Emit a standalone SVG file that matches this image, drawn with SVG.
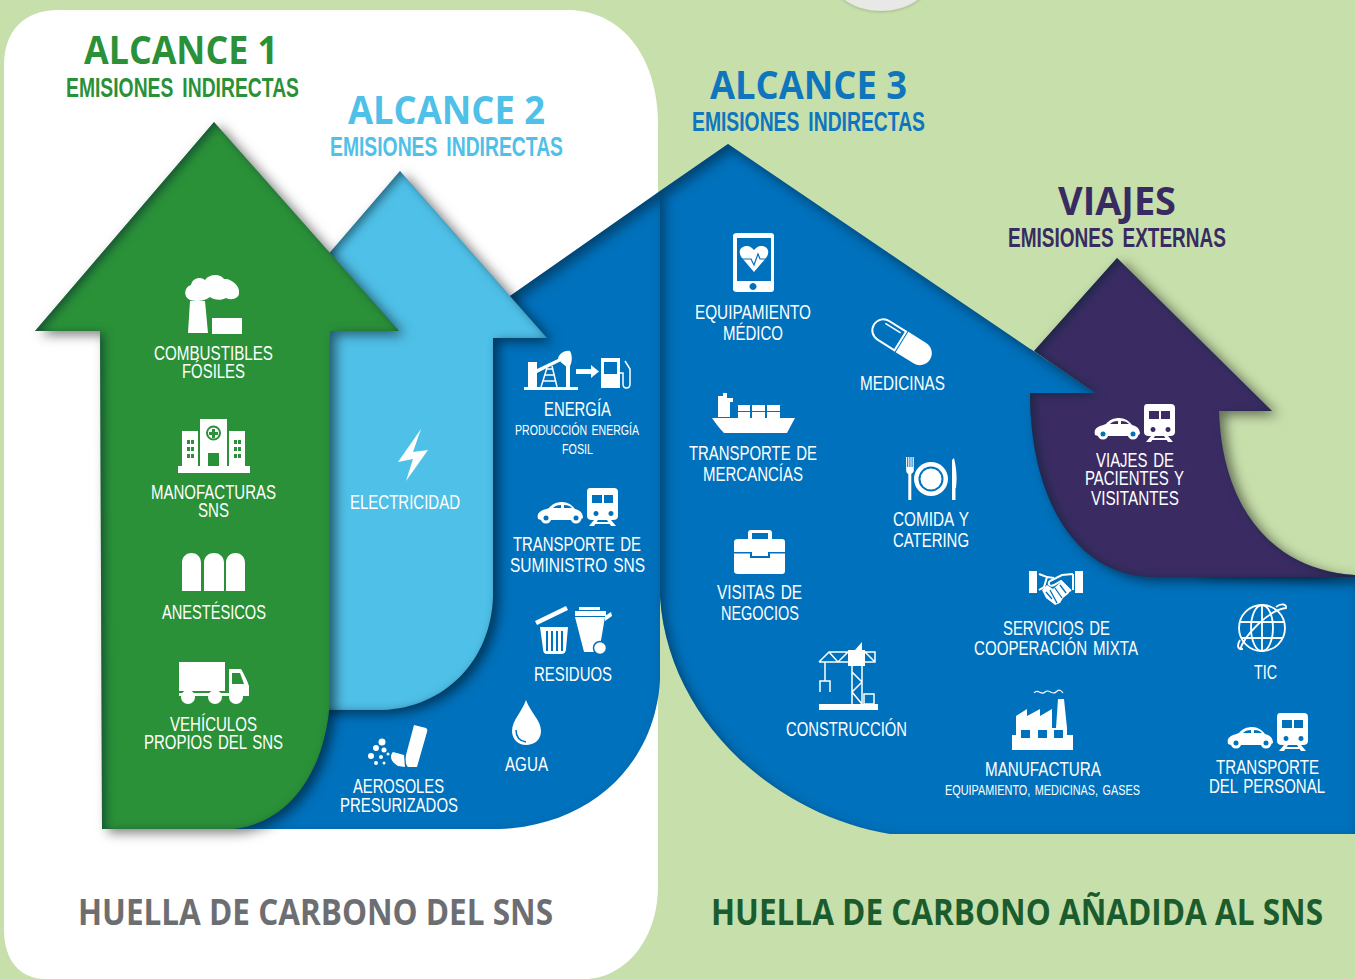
<svg xmlns="http://www.w3.org/2000/svg" xmlns:xlink="http://www.w3.org/1999/xlink" width="1355" height="979" viewBox="0 0 1355 979">
<style>
text{font-family:"Liberation Sans",Arial,sans-serif}
.l{fill:#fff;font-size:19.500px;word-spacing:2px}
.s{fill:#fff;font-size:15px;word-spacing:2px}
.h{font-family:"Open Sans","Liberation Sans",sans-serif;font-weight:700;font-size:39px}
.e{font-weight:700;font-size:27px;word-spacing:5px}
.f{font-family:"Open Sans","Liberation Sans",sans-serif;font-weight:700;font-size:36px}
.ic{fill:#fff}
.ev{fill:#fff;fill-rule:evenodd}
.st{fill:none;stroke:#fff;stroke-width:2}
.bl{fill:#0071bc}
.gr{fill:#2a9138}
</style>
<defs>
<filter id="both" x="-15%" y="-15%" width="130%" height="130%" color-interpolation-filters="sRGB">
<feGaussianBlur in="SourceAlpha" stdDeviation="6" result="b"/>
<feOffset in="b" dx="6" dy="4" result="o"/>
<feFlood flood-color="#000" flood-opacity=".5"/>
<feComposite in2="o" operator="in" result="drop"/>
<feFlood flood-color="#000" flood-opacity="1"/>
<feComposite in2="SourceAlpha" operator="out" result="inv"/>
<feOffset in="inv" dx="4" dy="2"/>
<feGaussianBlur stdDeviation="5" result="ib"/>
<feFlood flood-color="#06202e" flood-opacity=".55"/>
<feComposite in2="ib" operator="in"/>
<feComposite in2="SourceAlpha" operator="in" result="inner"/>
<feMerge><feMergeNode in="drop"/><feMergeNode in="SourceGraphic"/><feMergeNode in="inner"/></feMerge>
</filter>
<filter id="blue" x="-5%" y="-5%" width="110%" height="110%" color-interpolation-filters="sRGB">
<feFlood flood-color="#000" flood-opacity="1"/>
<feComposite in2="SourceAlpha" operator="out" result="inv"/>
<feOffset in="inv" dx="5" dy="6"/>
<feGaussianBlur stdDeviation="6" result="ib"/>
<feFlood flood-color="#02263f" flood-opacity=".6"/>
<feComposite in2="ib" operator="in"/>
<feComposite in2="SourceAlpha" operator="in" result="inner"/>
<feMerge><feMergeNode in="SourceGraphic"/><feMergeNode in="inner"/></feMerge>
</filter>
<filter id="soft" x="-20%" y="-20%" width="140%" height="140%"><feDropShadow dx="0" dy="1" stdDeviation="1.500" flood-color="#000" flood-opacity=".2"/></filter>
<clipPath id="cuña"><path d="M1030,340 H1100 V393 H1030Z"/></clipPath>
<path id="cuerpo3" d="M660,191 L728,144 L1095,393 L1110,430 L1200,570 L1355,576 L1355,834 L890,834 C775,815 668,720 660,597Z"/>
<g id="cartrain">
<path class="ev" d="M4,22 C8,20 10,20 12,19 C15,15 20,13 25,13 C31,13 35,16 38,20 C43,21 46,24 46,29 L42,31 L4,31 L1,30 C0,26 1,24 4,22Z M16,19 L24,19 L24,16 C20,16 18,17 16,19Z M27,16 L27,19 L35,19 C33,17 31,16 27,16Z"/>
<circle cx="9" cy="29" r="5.500" class="ic"/><circle cx="39" cy="29" r="5.500" class="ic"/>
<circle cx="9" cy="29" r="2.500" fill="#0071bc"/><circle cx="39" cy="29" r="2.500" fill="#0071bc"/>
<path class="ev" d="M53,-1 H77 Q81,-1 81,3 V27 Q81,31 76,31 H55 Q50,31 50,27 V3 Q50,-1 53,-1Z M55,6 V14 H65 V6Z M67,6 V14 H76 V6Z M59,22 a2.500,2.500 0 1 0 0.010,0Z M74,22 a2.500,2.500 0 1 0 0.010,0Z"/>
<path class="ic" d="M57,31 H61 L57,37 H52Z M70,31 H74 L79,37 H74Z M58,33 H73 V35 H58Z"/>
</g>
</defs>

<rect width="1355" height="979" fill="#c7dfab"/>
<ellipse cx="881" cy="-32" rx="54" ry="43" fill="#e8e9e6" filter="url(#soft)"/>
<path d="M58,10 H570 C625,12 658,60 658,125 V885 C658,945 620,979 585,979 H45 C20,979 4,960 4,930 V65 C4,30 25,10 58,10Z" fill="#fff"/>

<g id="connectors"/>

<g id="alcance3-derecha"><use href="#cuerpo3" class="bl" filter="url(#blue)"/></g>
<g id="alcance3-izquierda"><path class="bl" filter="url(#blue)" d="M400,373 L660,191 V680 C655,765 590,826 499,829 H200 V373Z"/></g>
<g id="alcance2-flecha"><path d="M400,171 L547,338 H493 V597 C491,660 445,708 382,710 H320 V264Z" fill="#4fc0e8" filter="url(#both)"/></g>
<g id="alcance1-flecha"><path d="M214,122 L399,331 H330 V700 C326,770 290,824 232,829 H102 L100,331 H35Z" fill="#2a9138" filter="url(#both)"/></g>
<g id="viajes-flecha">
<path d="M1117,258 L1272,411 H1219 C1222,505 1270,570 1355,575 V577 H1150 C1070,574 1030,490 1030,393 H1095 L1034,351Z" fill="#3a2c63" filter="url(#both)"/>
<g clip-path="url(#cuña)"><use href="#cuerpo3" class="bl" filter="url(#blue)"/></g>
</g>

<g id="titulos">
<text class="h" x="84" y="64" textLength="194" lengthAdjust="spacingAndGlyphs" fill="#2a9138">ALCANCE 1</text>
<text class="e" x="66" y="97" textLength="233" lengthAdjust="spacingAndGlyphs" fill="#2a9138">EMISIONES INDIRECTAS</text>
<text class="h" x="348" y="124" textLength="197" lengthAdjust="spacingAndGlyphs" fill="#4fc0e8">ALCANCE 2</text>
<text class="e" x="330" y="156" textLength="233" lengthAdjust="spacingAndGlyphs" fill="#4fc0e8">EMISIONES INDIRECTAS</text>
<text class="h" x="710" y="99" textLength="197" lengthAdjust="spacingAndGlyphs" fill="#0f75bd">ALCANCE 3</text>
<text class="e" x="692" y="131" textLength="233" lengthAdjust="spacingAndGlyphs" fill="#0f75bd">EMISIONES INDIRECTAS</text>
<text class="h" x="1058" y="215" textLength="118" lengthAdjust="spacingAndGlyphs" fill="#372b62">VIAJES</text>
<text class="e" x="1008" y="247" textLength="218" lengthAdjust="spacingAndGlyphs" fill="#372b62">EMISIONES EXTERNAS</text>
<text class="f" x="78" y="925" textLength="475" lengthAdjust="spacingAndGlyphs" fill="#6d6e71">HUELLA DE CARBONO DEL SNS</text>
<text class="f" x="711" y="925" textLength="612" lengthAdjust="spacingAndGlyphs" fill="#1a5c2e">HUELLA DE CARBONO AÑADIDA AL SNS</text>
</g>

<g id="combustibles">
<path class="ic" d="M190,300 C183,297 184,287 191,285 C192,278 201,276 205,280 C209,274 220,273 224,279 C232,278 240,287 239,292 C240,298 232,301 226,298 C221,301 214,300 210,297 C205,301 197,302 190,300Z M190,301 H205 L208,333 H188Z M212,318 H242 V334 H212Z"/>
<text class="l" x="154" y="360" textLength="119" lengthAdjust="spacingAndGlyphs">COMBUSTIBLES</text>
<text class="l" x="182" y="378" textLength="63" lengthAdjust="spacingAndGlyphs">FÓSILES</text>
</g>
<g id="manofacturas">
<path class="ic" d="M178,466 H250 V473 H178Z M200,419 H227 V466 H200Z M182,431 H198 V466 H182Z M229,431 H245 V466 H229Z"/>
<circle cx="213.500" cy="433" r="6.500" class="ic" stroke="#2a9138" stroke-width="2"/>
<path class="gr" d="M212,429 h3 v3 h3 v3 h-3 v3 h-3 v-3 h-3 v-3 h3Z M208,453 H219 V466 H208Z M187,440 h3 v4 h-3Z M191,440 h3 v4 h-3Z M187,447 h3 v4 h-3Z M191,447 h3 v4 h-3Z M187,454 h3 v4 h-3Z M191,454 h3 v4 h-3Z M234,440 h3 v4 h-3Z M238,440 h3 v4 h-3Z M234,447 h3 v4 h-3Z M238,447 h3 v4 h-3Z M234,454 h3 v4 h-3Z M238,454 h3 v4 h-3Z"/>
<text class="l" x="151" y="499" textLength="125" lengthAdjust="spacingAndGlyphs">MANOFACTURAS</text>
<text class="l" x="198" y="517" textLength="31" lengthAdjust="spacingAndGlyphs">SNS</text>
</g>
<g id="anestesicos">
<path class="ic" d="M182,591 V563 C182,556 187,553 191.500,553 C196,553 201,556 201,563 V591Z M204,591 V563 C204,556 209,553 214,553 C219,553 224,556 224,563 V591Z M226,591 V563 C226,556 231,553 235.500,553 C240,553 245,556 245,563 V591Z"/>
<text class="l" x="162" y="619" textLength="104" lengthAdjust="spacingAndGlyphs">ANESTÉSICOS</text>
</g>
<g id="vehiculos">
<path class="ic" d="M179,662 H225 V691 H179Z M229,669 H241 C244,674 247,680 249,686 V695 H229Z M179,693 H249 V696 H179Z"/>
<path class="gr" d="M232,673 H240 L244,684 H232Z"/>
<circle class="ic" cx="188" cy="697" r="7"/><circle class="ic" cx="215" cy="697" r="7"/><circle class="ic" cx="236" cy="697" r="7"/>
<text class="l" x="170" y="731" textLength="87" lengthAdjust="spacingAndGlyphs">VEHÍCULOS</text>
<text class="l" x="144" y="749" textLength="139" lengthAdjust="spacingAndGlyphs">PROPIOS DEL SNS</text>
</g>
<g id="electricidad">
<path class="ic" d="M421,429 L398,462 L413,459 L406,481 L428,450 L413,452Z"/>
<text class="l" x="350" y="509" textLength="110" lengthAdjust="spacingAndGlyphs">ELECTRICIDAD</text>
</g>
<g id="energia">
<path class="ic" d="M524,387 H578 V390 H524Z M528,362 H537 V387 H528Z M537,369 L560,358 L561,361 L537,373Z M558,358 C560,353 565,350 570,351 C573,356 572,364 569,368 C565,366 560,362 558,358Z M566,366 H570 V387 H566Z M576,369 H591 V365 L599,371.500 L591,378 V374 H576Z M601,358 H620 V388 H601Z"/>
<path class="st" d="M541,387 L547,368 M557,387 L552,366 M543,381 H556 M545,375 H554 M547,369 H552" style="stroke-width:1.500"/>
<path class="st" d="M620,373 h3 v11 q0,4 3.500,4 q3.500,0 3.500,-4 V369 L625,361" style="stroke-width:1.500"/>
<path class="bl" d="M604,362 H617 V374 H604Z"/>
<text class="l" x="544" y="416" textLength="67" lengthAdjust="spacingAndGlyphs">ENERGÍA</text>
<text class="s" x="515" y="435" textLength="124" lengthAdjust="spacingAndGlyphs">PRODUCCIÓN ENERGÍA</text>
<text class="s" x="562" y="454" textLength="31" lengthAdjust="spacingAndGlyphs">FOSIL</text>
</g>
<g id="suministro">
<use xlink:href="#cartrain" href="#cartrain" transform="translate(537,489)"/>
<text class="l" x="513" y="551" textLength="128" lengthAdjust="spacingAndGlyphs">TRANSPORTE DE</text>
<text class="l" x="510" y="572" textLength="135" lengthAdjust="spacingAndGlyphs">SUMINISTRO SNS</text>
</g>
<g id="residuos">
<path class="ic" d="M535,621 L566,606 L568,610 L537,625Z M540,627 H568 L566,649 Q566,654 561,654 H547 Q543,654 543,649Z M579,607 H600 V610 H579Z M575,611 H606 V616 H575Z M575,617 H605 L599,652 H584Z M605,616 L611,612 L612,616 L605,621Z"/>
<path class="bl" d="M546,631 h2 v20 h-2Z M551,631 h2 v20 h-2Z M556,631 h2 v20 h-2Z M561,631 h2 v20 h-2Z"/>
<circle cx="600" cy="648" r="6.500" class="ic" stroke="#0071bc" stroke-width="1.500"/>
<text class="l" x="534" y="681" textLength="78" lengthAdjust="spacingAndGlyphs">RESIDUOS</text>
</g>
<g id="agua">
<path class="ic" d="M526,700 C530,712 541,720 541,731 C541,740 534,745 526,745 C518,745 512,739 512,731 C512,720 522,712 526,700Z"/>
<path d="M516,730 C516,737 520,741 526,742" fill="none" stroke="#0071bc" stroke-width="1.500"/>
<text class="l" x="505" y="771" textLength="43" lengthAdjust="spacingAndGlyphs">AGUA</text>
</g>
<g id="aerosoles">
<path class="ic" d="M414,725 L426,728 Q428,729 427,732 L417,767 L408,767 C406,766 405,760 406,755Z M393,752 L404,755 L405,767 L398,766 C391,762 389,756 393,752Z"/>
<circle class="ic" cx="382" cy="742" r="3.500"/><circle class="ic" cx="376" cy="748" r="3"/><circle class="ic" cx="384" cy="750" r="2.500"/><circle class="ic" cx="371" cy="756" r="3"/><circle class="ic" cx="381" cy="757" r="2"/><circle class="ic" cx="388" cy="754" r="1.500"/><circle class="ic" cx="376" cy="763" r="2"/><circle class="ic" cx="384" cy="763" r="1.500"/>
<text class="l" x="353" y="793" textLength="91" lengthAdjust="spacingAndGlyphs">AEROSOLES</text>
<text class="l" x="340" y="812" textLength="118" lengthAdjust="spacingAndGlyphs">PRESURIZADOS</text>
</g>
<g id="equipamiento">
<path class="ev" d="M737,233 H771 Q774,233 774,236 V289 Q774,292 771,292 H737 Q733,292 733,289 V236 Q733,233 737,233Z M737,238 V281 H771 V238Z M753,283 a3.500,3.500 0 1 0 0.010,0Z"/>
<path class="ic" d="M754,272 L742,258 C737,251 741,246 747,246 C750,246 752,248 754,250 C756,248 758,246 761,246 C767,246 771,251 766,258Z"/>
<path d="M741,259 H751 L754,265 L758,254 L760,259 H767" fill="none" stroke="#0071bc" stroke-width="1.200"/>
<text class="l" x="695" y="319" textLength="116" lengthAdjust="spacingAndGlyphs">EQUIPAMIENTO</text>
<text class="l" x="723" y="340" textLength="60" lengthAdjust="spacingAndGlyphs">MÉDICO</text>
</g>
<g id="medicinas">
<g transform="translate(902,342) rotate(32)">
<path class="ic" d="M0,-12 H21 A12,12 0 0 1 21,12 H0Z"/>
<path d="M-2,-11 H-22 A11,11 0 0 0 -22,11 H-2Z" fill="none" stroke="#fff" stroke-width="2"/>
<path d="M-24,-7 H-6" stroke="#fff" stroke-width="1.500" fill="none"/>
</g>
<text class="l" x="860" y="390" textLength="85" lengthAdjust="spacingAndGlyphs">MEDICINAS</text>
</g>
<g id="mercancias">
<path class="ic" d="M712,418 H795 L788,431 L787,433 H724 C720,429 716,424 712,418Z M718,396 H723 V393 H727 V398 H733 V402 H730 V417 H718Z"/>
<path class="ic" d="M738,405 H750 V411 H738Z M752,405 H765 V411 H752Z M767,405 H780 V411 H767Z M738,412 H750 V419 H738Z M752,412 H765 V419 H752Z M767,412 H780 V419 H767Z"/>
<text class="l" x="689" y="460" textLength="128" lengthAdjust="spacingAndGlyphs">TRANSPORTE DE</text>
<text class="l" x="703" y="481" textLength="100" lengthAdjust="spacingAndGlyphs">MERCANCÍAS</text>
</g>
<g id="comida">
<path class="ic" d="M906,457 h1.200 v10 h1 v-10 h1.200 v10 h1 v-10 h1.200 v10 h1 v-10 h1.200 v13 c0,3 -2,3 -2.500,4 v26 h-3 v-26 c-1,-1 -2.100,-1 -2.100,-4Z"/>
<circle class="ic" cx="931" cy="479" r="17"/>
<circle cx="931" cy="479" r="12.500" class="bl"/><circle class="ic" cx="931" cy="479" r="10.500"/>
<path class="ic" d="M952,500 V460 L954,458 C957,470 957,480 956,488 H955.500 V500Z"/>
<text class="l" x="893" y="526" textLength="76" lengthAdjust="spacingAndGlyphs">COMIDA Y</text>
<text class="l" x="893" y="547" textLength="76" lengthAdjust="spacingAndGlyphs">CATERING</text>
</g>
<g id="visitas">
<path class="ev" d="M738,539 H748 V533 Q748,530 751,530 H769 Q772,530 772,533 V539 H782 Q785,539 785,542 V571 Q785,574 782,574 H738 Q734,574 734,571 V542 Q734,539 738,539Z M752,533 V539 H768 V533Z"/>
<path class="bl" d="M734,552 H752 V556 H768 V552 H785 V553.500 H770 V558 H750 V553.500 H734Z"/>
<text class="l" x="717" y="599" textLength="85" lengthAdjust="spacingAndGlyphs">VISITAS DE</text>
<text class="l" x="721" y="620" textLength="78" lengthAdjust="spacingAndGlyphs">NEGOCIOS</text>
</g>
<g id="cooperacion">
<path class="ic" d="M1029,571 H1037 V593 H1029Z M1075,571 H1083 V593 H1075Z M1042,590 L1047,585 L1053,589 L1062,581 L1071,590 L1068,594 L1063,598 L1060,603 L1055,605 L1050,601 L1046,598Z"/>
<path class="st" d="M1039,574 L1047,577 L1044,587 L1039,590 M1047,577 L1054,578 M1073,574 L1062,575 L1050,581 C1047,584 1050,587 1054,585 L1061,581 L1071,591 M1073,574 V590"/>
<path d="M1046,592 L1052,599 M1050,590 L1057,603 M1055,588 L1062,598 M1060,585 L1066,593" fill="none" stroke="#0071bc" stroke-width="1.300"/>
<text class="l" x="1003" y="635" textLength="107" lengthAdjust="spacingAndGlyphs">SERVICIOS DE</text>
<text class="l" x="974" y="655" textLength="164" lengthAdjust="spacingAndGlyphs">COOPERACIÓN MIXTA</text>
</g>
<g id="tic">
<g class="st" style="stroke-width:1.800">
<circle cx="1262" cy="628" r="23"/>
<ellipse cx="1262" cy="628" rx="11" ry="23"/>
<path d="M1262,605 V651 M1240,622 H1285 M1241,638 H1283 M1240,650 C1244,636 1268,610 1286,608 C1287,604 1281,603 1276,607 M1240,640 C1237,645 1237,650 1243,649"/>
</g>
<text class="l" x="1254" y="679" textLength="23" lengthAdjust="spacingAndGlyphs">TIC</text>
</g>
<g id="construccion">
<path class="ic" d="M819,704 H878 V710 H819Z M848,650 H865 V666 H848Z M862,642 L855,650 H862Z"/>
<g class="st" style="stroke-width:1.500">
<path d="M819,662 H875 V652 H865 M819,662 L829,652 H848 M829,652 L838,662 L848,652 M865,652 L875,662 M852,666 V704 M862,666 V704 M852,672 L862,682 L852,692 L862,704 M825,662 V681 M820,692 V681 H830 V692 M864,694 H874 V704 H864Z"/>
</g>
<text class="l" x="786" y="736" textLength="121" lengthAdjust="spacingAndGlyphs">CONSTRUCCIÓN</text>
</g>
<g id="manufactura">
<path class="ic" d="M1012,750 V735 H1016 V716 L1027,709 V716 L1040,709 V716 L1052,709 V728 H1056 L1058,699 H1064 L1067,728 V735 H1073 V750Z"/>
<path class="bl" d="M1021,730 h9 v8 h-9Z M1038,730 h9 v8 h-9Z M1054,730 h9 v8 h-9Z"/>
<path d="M1034,693 C1038,688 1041,696 1045,692 C1049,688 1052,696 1056,692 C1059,689 1061,690 1063,693" fill="none" stroke="#fff" stroke-width="1.200"/>
<text class="l" x="985" y="776" textLength="116" lengthAdjust="spacingAndGlyphs">MANUFACTURA</text>
<text class="s" x="945" y="795" textLength="195" lengthAdjust="spacingAndGlyphs">EQUIPAMIENTO, MEDICINAS, GASES</text>
</g>
<g id="personal">
<use xlink:href="#cartrain" href="#cartrain" transform="translate(1227,714)"/>
<text class="l" x="1216" y="774" textLength="103" lengthAdjust="spacingAndGlyphs">TRANSPORTE</text>
<text class="l" x="1209" y="793" textLength="116" lengthAdjust="spacingAndGlyphs">DEL PERSONAL</text>
</g>
<g id="viajes">
<use xlink:href="#cartrain" href="#cartrain" transform="translate(1094,405)"/>
<text class="l" x="1096" y="467" textLength="78" lengthAdjust="spacingAndGlyphs">VIAJES DE</text>
<text class="l" x="1085" y="485" textLength="99" lengthAdjust="spacingAndGlyphs">PACIENTES Y</text>
<text class="l" x="1091" y="505" textLength="88" lengthAdjust="spacingAndGlyphs">VISITANTES</text>
</g>
</svg>
